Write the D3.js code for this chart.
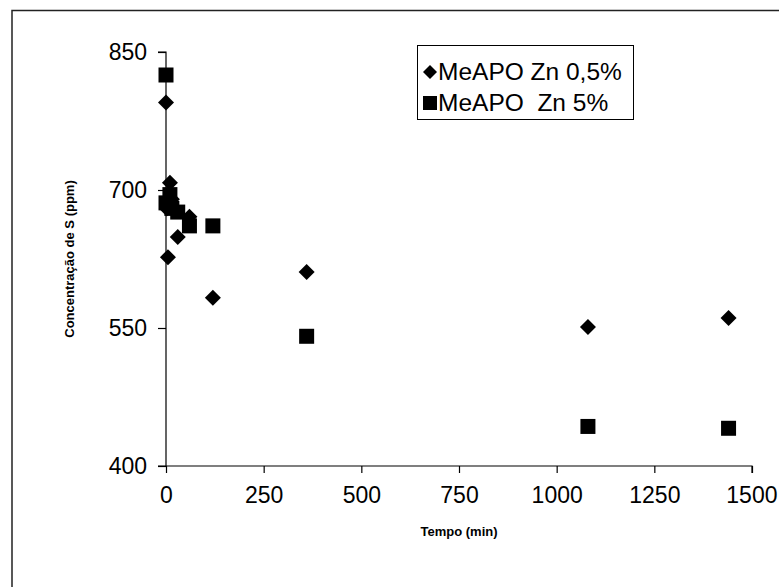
<!DOCTYPE html>
<html>
<head>
<meta charset="utf-8">
<script src="https://cdn.jsdelivr.net/npm/d3@7"></script>
<style>
  body { margin: 0; background: #fff; }
  svg { display: block; font-family: "Liberation Sans", Arial, sans-serif; }
</style>
</head>
<body>
<div id="chart"></div>
<script>
// tempo (min) e concentração (ppm)
var tempoZn05 = [0, 2, 5, 10, 15, 30, 60, 120, 360, 1080, 1440];
var concZn05  = [795, 680, 627, 708, 690, 649, 671, 583, 611, 551, 561];

var tempoZn5 = [0, 0, 10, 15, 30, 60, 120, 360, 1080, 1440];
var concZn5  = [825, 686, 695, 680, 676, 661, 661, 541, 443, 441];

var xTicks = [0, 250, 500, 750, 1000, 1250, 1500];
var yTicks = [400, 550, 700, 850];
var legendLabels = ["MeAPO Zn 0,5%", "MeAPO  Zn 5%"];

var width = 779, height = 587;
var svg = d3.select("#chart").append("svg")
    .attr("width", width)
    .attr("height", height);

// moldura externa
svg.append("path")
    .attr("d", "M12," + height + "V10.5H" + width)
    .attr("fill", "none")
    .attr("stroke", "#222")
    .attr("stroke-width", 1.5);

var x = d3.scaleLinear().domain([0, 1500]).range([166, 752]);
var y = d3.scaleLinear().domain([400, 850]).range([466, 52]);

var xAxis = svg.append("g")
    .attr("transform", "translate(0," + y(400) + ")")
    .call(d3.axisBottom(x).tickValues(xTicks).tickSize(7).tickPadding(14).tickFormat(d3.format("d")));

var yAxis = svg.append("g")
    .attr("transform", "translate(" + x(0) + ",0)")
    .call(d3.axisLeft(y).tickValues(yTicks).tickSize(8).tickPadding(11).tickFormat(d3.format("d")));

[xAxis, yAxis].forEach(function (g) {
    g.select(".domain").attr("stroke", "#000").attr("stroke-width", 1.2);
    g.selectAll(".tick line").attr("stroke", "#000").attr("stroke-width", 1.2);
    g.selectAll(".tick text")
        .attr("fill", "#000")
        .style("font-size", "23px")
        .style("font-family", "Liberation Sans, Arial, sans-serif");
});
yAxis.select(".domain").attr("d", "M-8," + y(850) + "H0V" + y(400) + "H-8");
xAxis.select(".domain").attr("d", "M" + x(0) + ",0H" + x(1500) + "V7");
// o último rótulo encosta na borda, como no original
xAxis.selectAll(".tick text").filter(function (d) { return d === 1500; })
    .attr("text-anchor", "end").attr("x", 777 - x(1500));

// títulos dos eixos
svg.append("text")
    .attr("x", 459).attr("y", 536)
    .attr("text-anchor", "middle")
    .style("font-size", "13px").style("font-weight", "bold")
    .text("Tempo (min)");

svg.append("text")
    .attr("transform", "translate(74,259) rotate(-90)")
    .attr("text-anchor", "middle")
    .style("font-size", "13px").style("font-weight", "bold")
    .text("Concentração de S (ppm)");

function diamondPath(r) {
    return "M0," + (-r) + "L" + r + ",0L0," + r + "L" + (-r) + ",0Z";
}

// MeAPO Zn 0,5%
svg.append("g").selectAll("path")
    .data(tempoZn05.map(function (t, i) { return [t, concZn05[i]]; }))
    .enter().append("path")
    .attr("d", diamondPath(8))
    .attr("transform", function (d) { return "translate(" + x(d[0]) + "," + y(d[1]) + ")"; })
    .attr("fill", "#000");

// MeAPO Zn 5%
var sq = 15;
svg.append("g").selectAll("rect")
    .data(tempoZn5.map(function (t, i) { return [t, concZn5[i]]; }))
    .enter().append("rect")
    .attr("x", function (d) { return x(d[0]) - sq / 2; })
    .attr("y", function (d) { return y(d[1]) - sq / 2; })
    .attr("width", sq).attr("height", sq)
    .attr("fill", "#000");

// legenda
var legend = svg.append("g").attr("transform", "translate(417,45)");
legend.append("rect")
    .attr("x", 0.5).attr("y", 0.5)
    .attr("width", 216).attr("height", 74)
    .attr("fill", "#fff").attr("stroke", "#000").attr("stroke-width", 1);

legend.append("path")
    .attr("d", diamondPath(7))
    .attr("transform", "translate(13,27)")
    .attr("fill", "#000");
legend.append("rect")
    .attr("x", 6).attr("y", 51).attr("width", 14).attr("height", 14)
    .attr("fill", "#000");

legend.selectAll("text.lab")
    .data(legendLabels)
    .enter().append("text")
    .attr("class", "lab")
    .attr("x", 21)
    .attr("y", function (d, i) { return 35 + i * 31; })
    .style("font-size", "24.5px")
    .attr("xml:space", "preserve")
    .text(function (d) { return d; });
</script>
</body>
</html>
